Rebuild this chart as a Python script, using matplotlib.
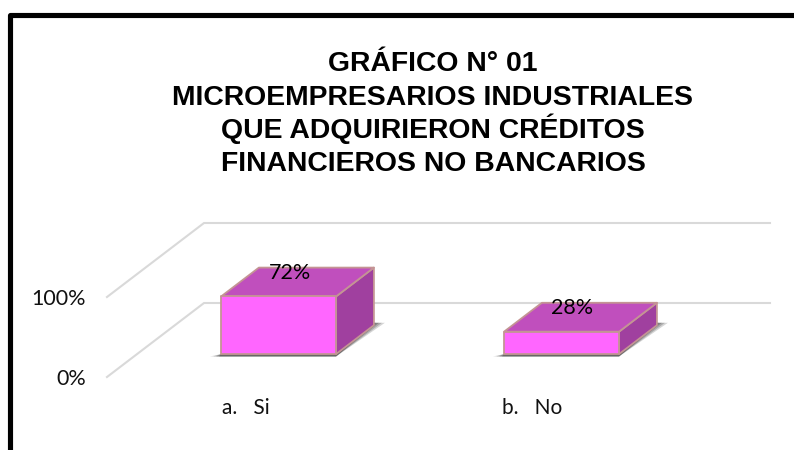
#!/usr/bin/env python3
import matplotlib
matplotlib.use("Agg")
import matplotlib.pyplot as plt
from matplotlib.patches import Polygon

# Datos
categorias = ["a.   Si", "b.   No"]
valores = [72, 28]
etiquetas = ["72%", "28%"]
ticks_y = [0, 100]
ticks_txt = ["0%", "100%"]
titulo = ["GRÁFICO N° 01", "MICROEMPRESARIOS INDUSTRIALES",
          "QUE ADQUIRIERON CRÉDITOS", "FINANCIEROS NO BANCARIOS"]

# Escalas: pixeles por categoria y por punto porcentual
PX_X = 283
PX_Y = 0.8

# Proyeccion oblicua, en unidades de datos
PROF_X = 97 / PX_X
PROF_Y = 74 / PX_Y
ANCHO = 115 / PX_X
D0, D1 = 0.31, 0.70


def proy(x, v, d):
    return x + PROF_X * d, v + PROF_Y * d


def caja(ax, xc, v):
    x0, x1 = xc - ANCHO / 2, xc + ANCHO / 2
    borde = "#C49494"

    # sombra
    for extra, alfa in [(11, 0.2), (8, 0.25), (5, 0.3), (2, 0.35)]:
        e = extra / PX_X
        sombra = [proy(x0 - e, -3, D0), proy(x1, -3, D0),
                  proy(x1 + e, 3, D1), proy(x1, 3, D1), proy(x0, 0, D0)]
        ax.add_patch(Polygon(sombra, fc="#303030", ec="none", alpha=alfa, zorder=3))

    frente = [proy(x0, 0, D0), proy(x1, 0, D0), proy(x1, v, D0), proy(x0, v, D0)]
    arriba = [proy(x0, v, D0), proy(x1, v, D0), proy(x1, v, D1), proy(x0, v, D1)]
    lado = [proy(x1, 0, D0), proy(x1, 0, D1), proy(x1, v, D1), proy(x1, v, D0)]
    ax.add_patch(Polygon(lado, fc="#A0409F", ec=borde, lw=1.3, joinstyle="round", zorder=4))
    ax.add_patch(Polygon(arriba, fc="#C04FBD", ec=borde, lw=1.3, joinstyle="round", zorder=4))
    ax.add_patch(Polygon(frente, fc="#FF66FF", ec=borde, lw=1.3, joinstyle="round", zorder=5))


def main():
    fig = plt.figure(figsize=(7.94, 4.5), dpi=100)
    ax = fig.add_axes([0, 0, 1, 1])
    xmin, xmax = -107 / PX_X, 687 / PX_X
    ymin, ymax = -73 / PX_Y, 377 / PX_Y
    ax.set_xlim(xmin, xmax)
    ax.set_ylim(ymin, ymax)
    ax.axis("off")

    # Marco
    ax.plot([xmin + 10 / PX_X, xmin + 10 / PX_X, xmax],
            [ymin, ymax - 14.7 / PX_Y, ymax - 14.7 / PX_Y],
            color="black", lw=3.7, solid_joinstyle="round", zorder=1)

    # Lineas de la rejilla
    for v in ticks_y:
        xs, ys = zip(proy(0, v, 0), proy(0, v, 1), proy(2, v, 1))
        ax.plot(xs, ys, color="#D9D9D9", lw=1.5, zorder=2)

    for v, txt in zip(ticks_y, ticks_txt):
        ax.text(-21 / PX_X, v - 8 / PX_Y, txt, ha="right", va="baseline", fontsize=15.5,
                family="Lato", color="#111111")

    # Barras
    for i, v in enumerate(valores):
        xc = i + 0.5
        caja(ax, xc, v)
        _, yt = proy(xc, v, D1)
        ax.text(xc + 41 / PX_X, yt - 5 / PX_Y, etiquetas[i], ha="center", va="center",
                fontsize=15.5, family="Lato", color="black", zorder=6)
        ax.text(xc - (26 + 4 * i) / PX_X, -39, categorias[i], ha="left", va="center",
                fontsize=15, family="Lato", color="#111111")

    # Titulo
    for linea, yp in zip(titulo, [71, 105, 138, 171]):
        ax.text((433 - 107) / PX_X, (377 - yp) / PX_Y, linea, ha="center", va="baseline",
                fontsize=20.4, fontweight="bold", family="Liberation Sans", color="black")

    fig.savefig("out.png", dpi=100)


if __name__ == "__main__":
    main()
